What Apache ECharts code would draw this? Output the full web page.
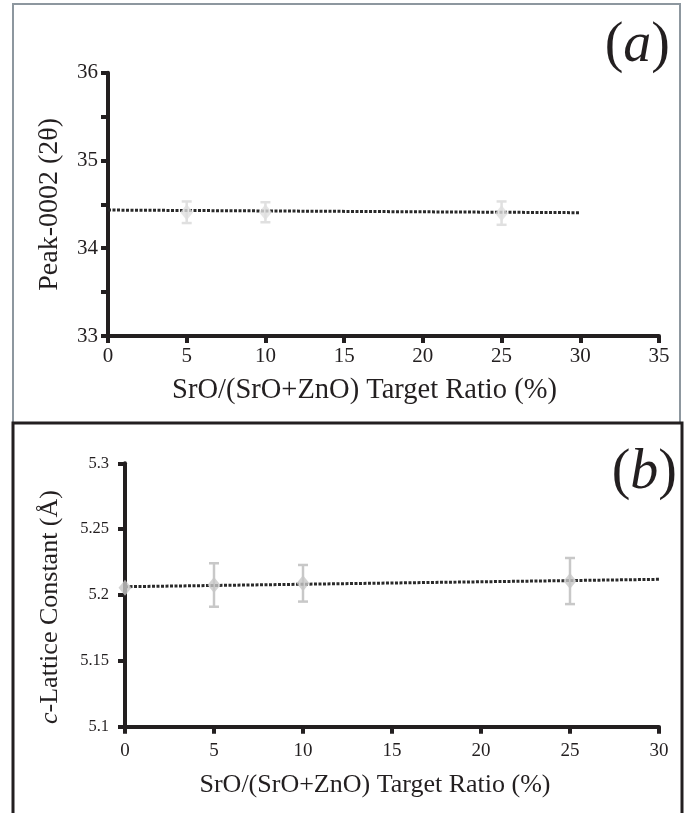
<!DOCTYPE html>
<html><head><meta charset="utf-8">
<script src="https://cdn.jsdelivr.net/npm/echarts@6/dist/echarts.min.js"></script>
<style>html,body{margin:0;padding:0;background:#fff}#c{width:689px;height:813px}</style>
</head><body><div id="c"></div>
<script>
// Panel (a): Peak-0002 (2θ)
const xA = [5, 10, 25];
const valA = [34.41, 34.41, 34.40];
const errA = [0.123, 0.114, 0.133];
const trendA = [[0, 34.435], [30, 34.405]];
const yTicksA = [33, 34, 35, 36];
// Panel (b): c-Lattice constant
const xB = [0, 5, 10, 25];
const valB = [5.2055, 5.2076, 5.2089, 5.2106];
const errB = [0, 0.0165, 0.0139, 0.0175];
const trendB = [[0, 5.2063], [30, 5.2119]];
const xLabel = 'SrO/(SrO+ZnO) Target Ratio (%)';

const FONT = 'Liberation Serif';
const INK = '#231f20';

function errSeries(xi, yi, xs, vals, errs, color) {
  return {
    type: 'custom', xAxisIndex: xi, yAxisIndex: yi, z: 3,
    data: xs.map((x, i) => [x, vals[i] - errs[i], vals[i] + errs[i]]).filter(d => d[2] > d[1]),
    renderItem: function (params, api) {
      const lo = api.coord([api.value(0), api.value(1)]);
      const hi = api.coord([api.value(0), api.value(2)]);
      const w = 5;
      const st = { stroke: color, lineWidth: 2.5 };
      return { type: 'group', children: [
        { type: 'line', shape: { x1: lo[0], y1: lo[1], x2: hi[0], y2: hi[1] }, style: st },
        { type: 'line', shape: { x1: lo[0] - w, y1: lo[1], x2: lo[0] + w, y2: lo[1] }, style: st },
        { type: 'line', shape: { x1: hi[0] - w, y1: hi[1], x2: hi[0] + w, y2: hi[1] }, style: st }
      ]};
    }
  };
}

const axisLine = { lineStyle: { color: INK, width: 4 } };
const axisTick = { inside: false, length: 7, lineStyle: { color: INK, width: 4 } };

const option = {
  backgroundColor: '#fff',
  animation: false,
  graphic: [
    { type: 'rect', shape: { x: 13, y: 4, width: 667, height: 419 }, style: { fill: 'none', stroke: '#8d979f', lineWidth: 2 }, z: -1 },
    { type: 'rect', shape: { x: 13, y: 423, width: 669, height: 420 }, style: { fill: 'none', stroke: INK, lineWidth: 3 }, z: -1 },
    { type: 'text', x: 670, y: 18, style: { text: '{p|(}{i|a}{p|)}', textAlign: 'right', textVerticalAlign: 'top',
        rich: { p: { font: '56px "Liberation Serif"', fill: INK }, i: { font: 'italic 56px "Liberation Serif"', fill: INK } } } },
    { type: 'text', x: 677, y: 445, style: { text: '{p|(}{i|b}{p|)}', textAlign: 'right', textVerticalAlign: 'top',
        rich: { p: { font: '56px "Liberation Serif"', fill: INK }, i: { font: 'italic 56px "Liberation Serif"', fill: INK } } } }
  ],
  grid: [
    { left: 108, top: 72.7, width: 551, height: 263.3 },
    { left: 125, top: 463.3, width: 534, height: 263.4 }
  ],
  xAxis: [
    { gridIndex: 0, type: 'value', min: 0, max: 35, interval: 5, splitLine: { show: false },
      axisLine: axisLine, axisTick: axisTick,
      axisLabel: { fontFamily: FONT, fontSize: 21, color: INK, margin: 10 },
      name: xLabel, nameLocation: 'middle', nameGap: 40,
      nameTextStyle: { fontFamily: FONT, fontSize: 28.5, color: INK, padding: [0, 38, 0, 0] } },
    { gridIndex: 1, type: 'value', min: 0, max: 30, interval: 5, splitLine: { show: false },
      axisLine: axisLine, axisTick: axisTick,
      axisLabel: { fontFamily: FONT, fontSize: 19, color: INK, margin: 15 },
      name: xLabel, nameLocation: 'middle', nameGap: 45,
      nameTextStyle: { fontFamily: FONT, fontSize: 26, color: INK, padding: [0, 34, 0, 0] } }
  ],
  yAxis: [
    { gridIndex: 0, type: 'value', min: 33, max: 36, interval: 0.5, splitLine: { show: false },
      axisLine: axisLine, axisTick: axisTick,
      axisLabel: { fontFamily: FONT, fontSize: 21, color: INK, margin: 10,
        formatter: v => (yTicksA.indexOf(v) >= 0 ? String(v) : '') },
      name: 'Peak-0002 (2θ)', nameLocation: 'middle', nameGap: 44,
      nameTextStyle: { fontFamily: FONT, fontSize: 28, color: INK } },
    { gridIndex: 1, type: 'value', min: 5.1, max: 5.3, interval: 0.05, splitLine: { show: false },
      axisLine: axisLine, axisTick: axisTick,
      axisLabel: { fontFamily: FONT, fontSize: 16.5, color: INK, margin: 16 },
      name: '{i|c}-Lattice Constant (Å)', nameLocation: 'middle', nameGap: 62,
      nameTextStyle: { fontFamily: FONT, fontSize: 26, color: INK, padding: [0, 24, 0, 0],
        rich: { i: { fontFamily: FONT, fontStyle: 'italic', fontSize: 26, color: INK } } } }
  ],
  series: [
    { type: 'line', xAxisIndex: 0, yAxisIndex: 0, data: trendA, symbol: 'none', z: 4,
      lineStyle: { color: '#2a2a2a', width: 3, type: [3, 1.5] } },
    errSeries(0, 0, xA, valA, errA, '#e0e0e0'),
    { type: 'scatter', xAxisIndex: 0, yAxisIndex: 0, data: xA.map((x, i) => [x, valA[i]]),
      symbol: 'diamond', symbolSize: [13, 16], z: 5, itemStyle: { color: '#e0e0e0' } },
    { type: 'line', xAxisIndex: 1, yAxisIndex: 1, data: trendB, symbol: 'none', z: 4,
      lineStyle: { color: '#2a2a2a', width: 3, type: [3, 1.5] } },
    errSeries(1, 1, xB, valB, errB, '#c8c8c8'),
    { type: 'scatter', xAxisIndex: 1, yAxisIndex: 1, data: xB.map((x, i) => [x, valB[i]]),
      symbol: 'diamond', symbolSize: [13, 16], z: 5, itemStyle: { color: '#c8c8c8' } }
  ]
};
echarts.init(document.getElementById('c')).setOption(option);
</script></body></html>
